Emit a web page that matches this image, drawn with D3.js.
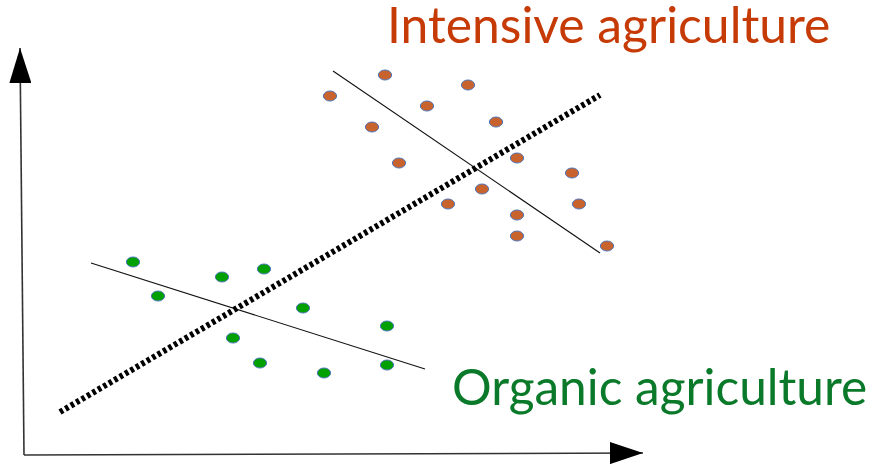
<!DOCTYPE html>
<html>
<head>
<meta charset="utf-8">
<script src="https://cdn.jsdelivr.net/npm/d3@7"></script>
<style>
  html, body { margin: 0; padding: 0; background: #fff; }
  svg { display: block; }
</style>
</head>
<body>
<div id="chart"></div>
<script>
// ---- data (abstract units) ----
const intensiveX = [31.0, 36.5, 40.7, 44.8, 35.2, 47.6, 37.9, 49.7, 55.2, 46.2, 42.8, 55.9, 49.7, 49.7, 58.7];
const intensiveY = [35.9, 38.0, 34.9, 37.0, 32.8, 33.3, 29.2, 29.7, 28.2, 26.6, 25.1, 25.1, 24.0, 21.9, 20.9];
const organicX = [11.3, 13.8, 20.2, 24.4, 28.3, 36.7, 21.3, 24.0, 30.4, 36.7];
const organicY = [19.3, 15.9, 17.8, 18.6, 14.7, 12.9, 11.7, 9.2, 8.2, 9.0];
const trendLine = [[4.0, 4.3], [58.0, 36.0]];
const intensiveLine = [[31.3, 38.4], [58.0, 20.2]];
const organicLine = [[7.1, 19.2], [40.5, 8.6]];
const yAxisLine = [[0.4, 0.0], [0.0, 40.7]];
const xAxisLine = [[0.4, 0.0], [62.3, 0.2]];
const labels = ["Intensive agriculture", "Organic agriculture"];

const W = 870, H = 467;
const x = d3.scaleLinear().domain([0, 62]).range([20, 640]);
const y = d3.scaleLinear().domain([0, 40]).range([455, 55]);

const svg = d3.select("#chart").append("svg").attr("width", W).attr("height", H);

const defs = svg.append("defs");
defs.append("marker")
  .attr("id", "arrUp").attr("markerUnits", "userSpaceOnUse")
  .attr("viewBox", "0 0 35 22").attr("markerWidth", 35).attr("markerHeight", 22)
  .attr("refX", 35).attr("refY", 11).attr("orient", "auto")
  .append("path").attr("d", "M0,0 L35,11 L0,22 Z").attr("fill", "#000");
defs.append("marker")
  .attr("id", "arrRight").attr("markerUnits", "userSpaceOnUse")
  .attr("viewBox", "0 0 33 22").attr("markerWidth", 33).attr("markerHeight", 22)
  .attr("refX", 33).attr("refY", 11).attr("orient", "auto")
  .append("path").attr("d", "M0,0 L33,11 L0,22 Z").attr("fill", "#000");

const line = d3.line().x(d => x(d[0])).y(d => y(d[1]));

// axes
svg.append("path").attr("d", line(yAxisLine))
  .attr("stroke", "#333").attr("stroke-width", 1.6).attr("fill", "none")
  .attr("marker-end", "url(#arrUp)");
svg.append("path").attr("d", line(xAxisLine))
  .attr("stroke", "#333").attr("stroke-width", 1.6).attr("fill", "none")
  .attr("marker-end", "url(#arrRight)");

// thin group lines
svg.append("path").attr("d", line(intensiveLine))
  .attr("stroke", "#111").attr("stroke-width", 1.1).attr("fill", "none");
svg.append("path").attr("d", line(organicLine))
  .attr("stroke", "#111").attr("stroke-width", 1.1).attr("fill", "none");

// dotted trend line
svg.append("path").attr("d", line(trendLine))
  .attr("stroke", "#000").attr("stroke-width", 6)
  .attr("stroke-dasharray", "3.5,2.8").attr("fill", "none");

// points
const intensive = intensiveX.map((v, i) => [v, intensiveY[i]]);
const organic = organicX.map((v, i) => [v, organicY[i]]);

svg.append("g").selectAll("ellipse").data(intensive).join("ellipse")
  .attr("cx", d => x(d[0])).attr("cy", d => y(d[1]))
  .attr("rx", 6.6).attr("ry", 5)
  .attr("fill", "#C9632E").attr("stroke", "#4F74B8").attr("stroke-width", 1);

svg.append("g").selectAll("ellipse").data(organic).join("ellipse")
  .attr("cx", d => x(d[0])).attr("cy", d => y(d[1]))
  .attr("rx", 6.6).attr("ry", 5)
  .attr("fill", "#00A000").attr("stroke", "#4F74B8").attr("stroke-width", 1);

// labels
svg.append("text").text(labels[0])
  .attr("x", 387).attr("y", 43)
  .attr("font-family", "Lato, sans-serif").attr("font-size", 49.8)
  .attr("fill", "#C63A06");
svg.append("text").text(labels[1])
  .attr("x", 452).attr("y", 405)
  .attr("font-family", "Lato, sans-serif").attr("font-size", 49.6)
  .attr("fill", "#0A7A2A");
</script>
</body>
</html>
